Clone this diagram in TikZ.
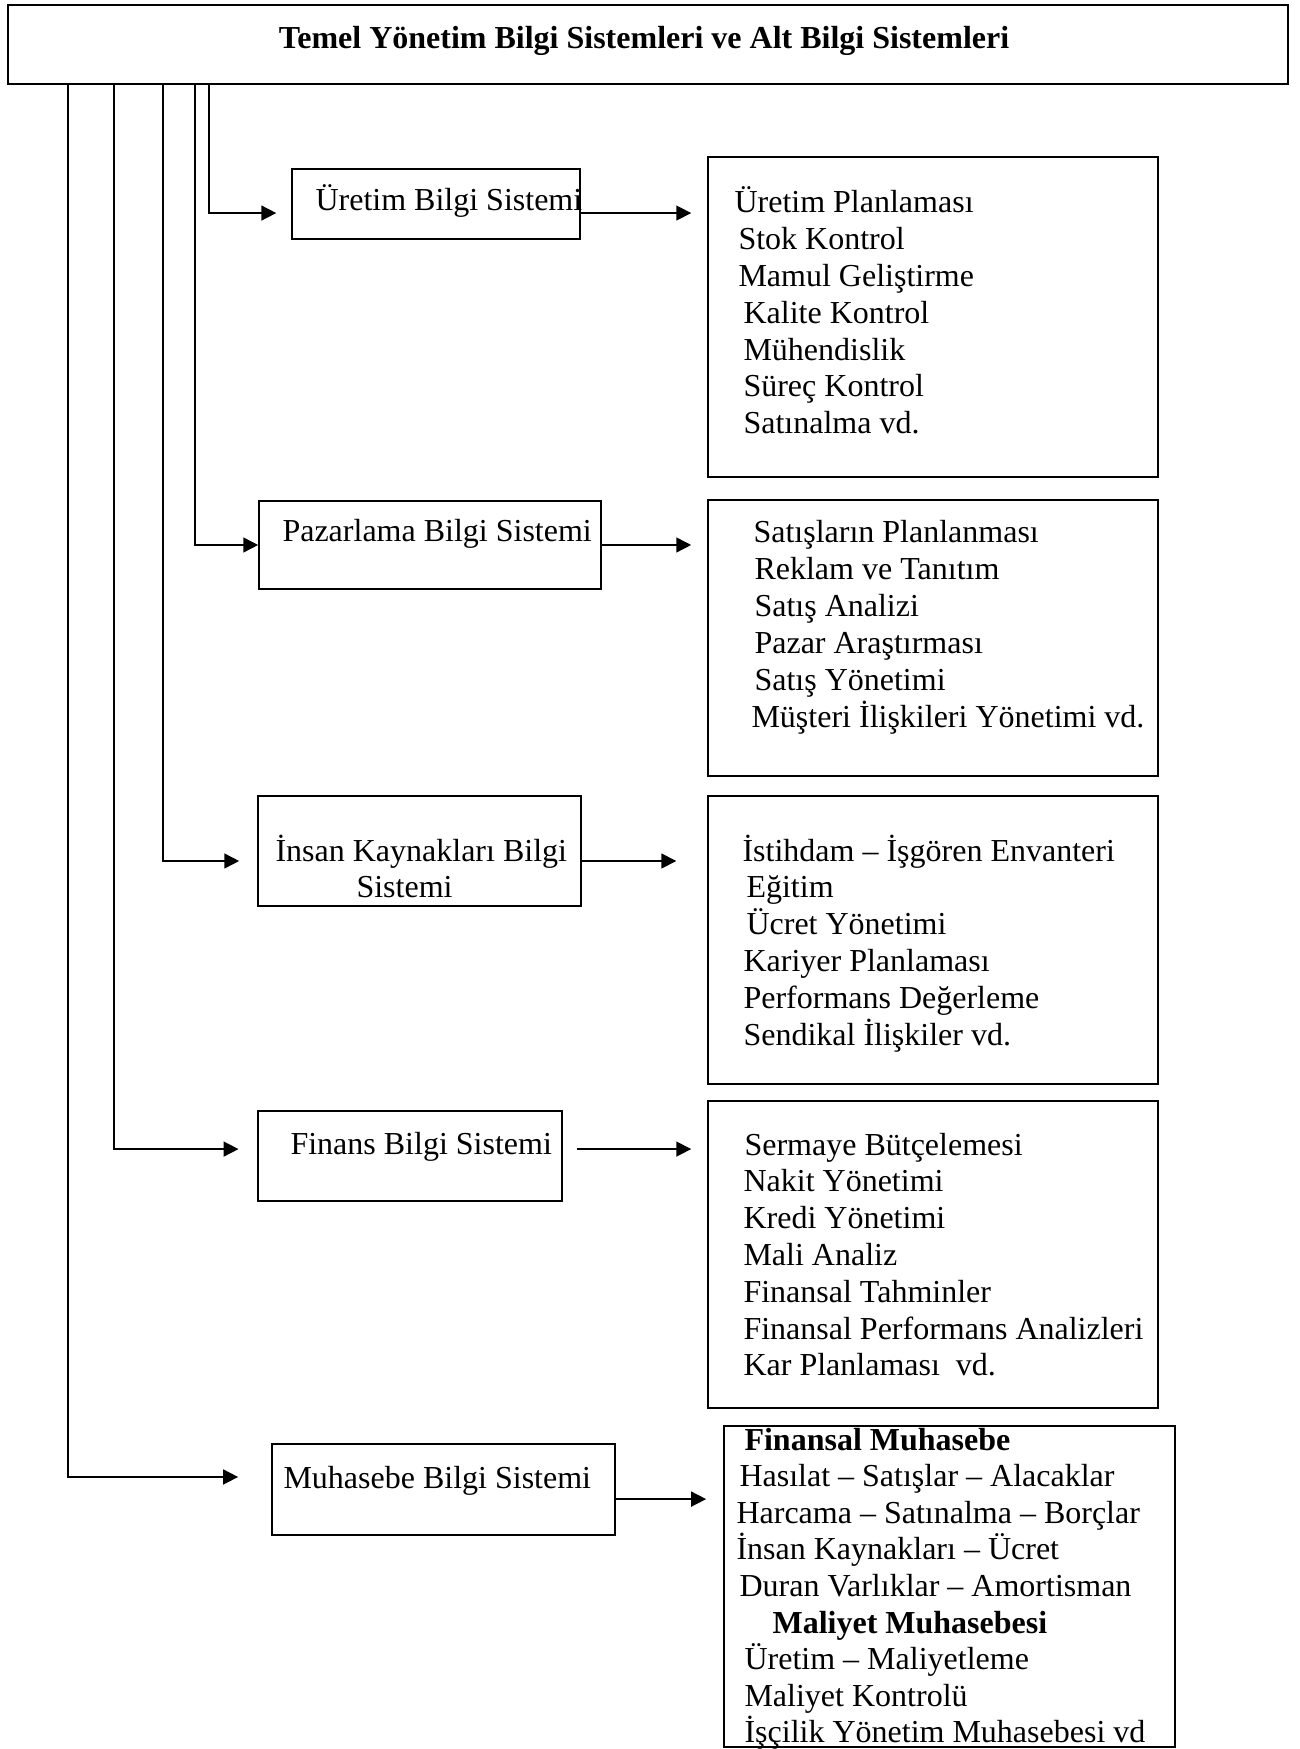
\documentclass[tikz,border=0pt]{standalone}
\usepackage{fontspec}
\setmainfont{Liberation Serif}
\usetikzlibrary{arrows.meta, positioning, fit}

\tikzset{
    box/.style={draw, line width=0.6pt, inner sep=0pt},
    lbl/.style={anchor=base west, inner sep=0pt, font=\fontsize{12}{13.8}\selectfont},
    arr/.style={-{Triangle[length=5.6pt, width=5.6pt]}, line width=0.6pt}
}

\begin{document}
\begin{tikzpicture}[x=0.375pt, y=-0.375pt]
    \useasboundingbox (0,0) rectangle (1299,1749);

    % header
    \node[box, line width=0.9pt, anchor=north west, minimum width=480pt, minimum height=29.6pt] (title) at (7,4) {};
    \node[lbl, anchor=base, font=\fontsize{12}{13.8}\selectfont\bfseries] (titletext) at (644,49) {Temel Yönetim Bilgi Sistemleri ve Alt Bilgi Sistemleri};

    % sub systems
    \node[box, fit={(292,169) (580,239)}] (uretim) {};
    \node[lbl] (uretimtext) at (315,211) {Üretim Bilgi Sistemi};
    \node[box, fit={(259,501) (601,589)}] (pazarlama) {};
    \node[lbl] (pazarlamatext) at (282,542) {Pazarlama Bilgi Sistemi};
    \node[box, fit={(258,796) (581,906)}] (insan) {};
    \node[lbl] (insantext) at (275,861) {İnsan Kaynakları Bilgi};
    \node[lbl] (insantext2) at (356,897) {Sistemi};
    \node[box, fit={(258,1111) (562,1201)}] (finans) {};
    \node[lbl] (finanstext) at (290,1154) {Finans Bilgi Sistemi};
    \node[box, fit={(272,1444) (615,1535)}] (muhasebe) {};
    \node[lbl] (muhasebetext) at (283,1488) {Muhasebe Bilgi Sistemi};

    % lists
    \node[box, fit={(708,157) (1158,477)}] (uretimlist) {};
    \foreach \x/\txt [count=\i from 0] in {734/Üretim Planlaması, 738/Stok Kontrol, 738/Mamul Geliştirme, 743/Kalite Kontrol, 743/Mühendislik, 743/Süreç Kontrol, 743/Satınalma vd.}
        \node[lbl] (u\i) at (\x, {213+36.8*\i}) {\txt};

    \node[box, fit={(708,500) (1158,776)}] (pazarlamalist) {};
    \foreach \x/\txt [count=\i from 0] in {753/Satışların Planlanması, 754/Reklam ve Tanıtım, 754/Satış Analizi, 754/Pazar Araştırması, 754/Satış Yönetimi, 751/Müşteri İlişkileri Yönetimi vd.}
        \node[lbl] (p\i) at (\x, {543+36.8*\i}) {\txt};

    \node[box, fit={(708,796) (1158,1084)}] (insanlist) {};
    \foreach \x/\txt [count=\i from 0] in {742/İstihdam – İşgören Envanteri, 746/Eğitim, 746/Ücret Yönetimi, 743/Kariyer Planlaması, 743/Performans Değerleme, 743/Sendikal İlişkiler vd.}
        \node[lbl] (i\i) at (\x, {861+36.8*\i}) {\txt};

    \node[box, fit={(708,1101) (1158,1408)}] (finanslist) {};
    \foreach \x/\txt [count=\i from 0] in {744/Sermaye Bütçelemesi, 743/Nakit Yönetimi, 743/Kredi Yönetimi, 743/Mali Analiz, 743/Finansal Tahminler, 743/Finansal Performans Analizleri, 743/Kar Planlaması~ vd.}
        \node[lbl] (f\i) at (\x, {1155+36.8*\i}) {\txt};

    \node[box, fit={(724,1426) (1175,1747)}] (muhasebelist) {};
    \foreach \x/\txt [count=\i from 0] in {744/\textbf{Finansal Muhasebe}, 739/Hasılat – Satışlar – Alacaklar, 736/Harcama – Satınalma – Borçlar, 736/İnsan Kaynakları – Ücret, 739/Duran Varlıklar – Amortisman, 772/\textbf{Maliyet Muhasebesi}, 744/Üretim – Maliyetleme, 744/Maliyet Kontrolü, 744/İşçilik Yönetim Muhasebesi vd}
        \node[lbl] (m\i) at (\x, {1450+36.6*\i}) {\txt};

    % drops from the header
    \path (title.south west) ++(61,0) coordinate (dM) ++(46,0) coordinate (dF) ++(49,0) coordinate (dI) ++(32,0) coordinate (dP) ++(14,0) coordinate (dU);

    \draw[arr, shorten >=5.6pt] (dU) |- ([yshift=-3.4pt]uretim.west);
    \draw[arr] (dP) |- (pazarlama.west);
    \draw[arr, shorten >=6.75pt] (dI) |- ([yshift=-3.75pt]insan.west);
    \draw[arr, shorten >=7pt] (dF) |- ([yshift=2.6pt]finans.west);
    \draw[arr, shorten >=12.4pt] (dM) |- ([yshift=4.7pt]muhasebe.west);

    % to the lists
    \draw[arr, shorten >=6pt] ([yshift=-3.4pt]uretim.east) -- ([yshift=-3.4pt]uretim.east -| uretimlist.west);
    \draw[arr, shorten >=6pt] (pazarlama.east) -- (pazarlama.east -| pazarlamalist.west);
    \draw[arr, shorten >=11.6pt] ([yshift=-3.75pt]insan.east) -- ([yshift=-3.75pt]insan.east -| insanlist.west);
    \draw[arr, shorten <=5.3pt, shorten >=6pt] ([yshift=2.6pt]finans.east) -- ([yshift=2.6pt]finans.east -| finanslist.west);
    \draw[arr, shorten >=6.4pt] ([yshift=-3.6pt]muhasebe.east) -- ([yshift=-3.6pt]muhasebe.east -| muhasebelist.west);
\end{tikzpicture}
\end{document}
